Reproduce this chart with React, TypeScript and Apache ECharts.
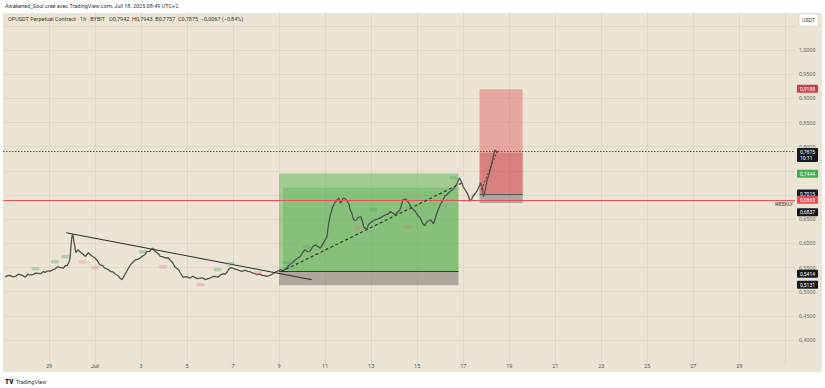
import React, { useEffect, useRef } from "react";
import * as echarts from "echarts";

// ---------- data ----------
const BASE_UTC = Date.UTC(2025, 5, 29, 0, 0); // 29 juin 2025 00:00
const HOUR_MS = 3600 * 1000;
const DAY_MS = 24 * HOUR_MS;

// hours relative to 29 June 00:00 and the close price read at that time
const hoursFromJun29 = [
  -46, -43, -41, -38, -35, -32, -30, -27, -25, -22, -20, -17, -14, -9, -6, -4, -1, 1, 4, 6,
  9, 11, 15, 17, 19, 21, 22, 23, 24, 25, 26, 28, 30, 32, 35, 38, 41, 43, 46, 48,
  51, 53, 56, 58, 62, 64, 67, 69, 72, 74, 76, 78, 79, 82, 85, 88, 90, 93, 95, 98,
  100, 102, 105, 108, 110, 111, 114, 116, 119, 121, 124, 126, 129, 131, 135, 137, 140, 143, 147, 150,
  152, 155, 158, 161, 163, 166, 168, 171, 173, 176, 178, 182, 184, 186, 187, 189, 191, 194, 196, 199,
  201, 205, 207, 210, 212, 215, 217, 220, 222, 225, 227, 231, 233, 236, 238, 241, 244, 246, 249, 251,
  255, 257, 260, 262, 265, 267, 270, 272, 275, 278, 281, 283, 286, 288, 290, 291, 293, 295, 296, 298,
  301, 302, 304, 306, 307, 309, 311, 313, 314, 316, 317, 319, 321, 322, 325, 327, 328, 330, 332, 333,
  335, 338, 340, 343, 345, 349, 351, 354, 356, 358, 361, 364, 366, 368, 369, 372, 374, 376, 377, 380,
  382, 385, 387, 390, 392, 394, 398, 401, 403, 405, 408, 411, 413, 415, 418, 421, 424, 426, 428, 429,
  431, 432, 434, 436, 438, 439, 441, 442, 445, 447, 449, 450, 452, 453, 454, 455, 457, 459, 460, 462,
  463, 465, 468,
];
const closePrices = [
  0.5304, 0.5331, 0.5337, 0.531, 0.5316, 0.5362, 0.5351, 0.5331, 0.5296, 0.5366, 0.5341, 0.5351, 0.5383, 0.5372, 0.5413, 0.5399, 0.5434, 0.542, 0.5455, 0.5469,
  0.5517, 0.5502, 0.549, 0.5537, 0.5544, 0.562, 0.5703, 0.5971, 0.6157, 0.6178, 0.6033, 0.5806, 0.5868, 0.5833, 0.5785, 0.573, 0.5806, 0.5765, 0.5723, 0.5697,
  0.562, 0.5558, 0.5537, 0.549, 0.5455, 0.542, 0.5403, 0.5366, 0.5331, 0.5283, 0.5248, 0.531, 0.5351, 0.5455, 0.5558, 0.562, 0.5661, 0.5672, 0.5697, 0.5744,
  0.5765, 0.5827, 0.5833, 0.5899, 0.5847, 0.5833, 0.5785, 0.573, 0.5723, 0.5697, 0.5703, 0.5661, 0.5599, 0.5523, 0.5455, 0.5387, 0.5296, 0.531, 0.5283, 0.5321,
  0.5296, 0.5269, 0.5283, 0.5279, 0.5248, 0.5269, 0.5283, 0.531, 0.5316, 0.53, 0.5337, 0.5372, 0.5366, 0.5413, 0.5455, 0.5496, 0.549, 0.5465, 0.5455, 0.5434,
  0.542, 0.5444, 0.542, 0.5413, 0.5387, 0.5372, 0.5351, 0.5362, 0.5337, 0.5331, 0.5316, 0.5341, 0.5366, 0.5403, 0.542, 0.5455, 0.5434, 0.5455, 0.5517, 0.5558,
  0.562, 0.5661, 0.5703, 0.573, 0.5827, 0.5868, 0.5827, 0.5833, 0.593, 0.5971, 0.592, 0.5903, 0.6006, 0.6075, 0.6143, 0.6323, 0.6556, 0.6694, 0.6763, 0.6839,
  0.6901, 0.6942, 0.6833, 0.6901, 0.6936, 0.6922, 0.6866, 0.6798, 0.6694, 0.6612, 0.6523, 0.6467, 0.6488, 0.6529, 0.6556, 0.6446, 0.6349, 0.6302, 0.6316, 0.6384,
  0.642, 0.6467, 0.6488, 0.6508, 0.6523, 0.657, 0.6591, 0.6612, 0.6659, 0.6632, 0.6591, 0.6653, 0.6694, 0.6818, 0.6901, 0.6922, 0.6866, 0.6818, 0.6763, 0.6694,
  0.6659, 0.657, 0.6529, 0.6405, 0.6364, 0.6446, 0.6488, 0.6405, 0.6529, 0.6653, 0.6798, 0.6901, 0.6984, 0.7004, 0.7066, 0.7108, 0.719, 0.7252, 0.7356, 0.7314,
  0.7232, 0.717, 0.7108, 0.7046, 0.6942, 0.6866, 0.6922, 0.6969, 0.7046, 0.7108, 0.719, 0.7252, 0.7149, 0.6969, 0.7004, 0.7108, 0.7314, 0.7438, 0.7521, 0.7665,
  0.7769, 0.793, 0.7875,
];

// position tools (hours from 29 June, prices)
const longZoneHours = [240, 427];
const longInnerStartHour = 244;
const longPrices = { stop: 0.5131, entry: 0.5414, target: 0.7444, innerTarget: 0.715 };
const shortZoneHours = [449, 494];
const shortPrices = { stop: 0.6837, entry: 0.7015, target: 0.9188 };
const lastPrice = 0.7875;
const weeklyLevel = 0.6863;
const countdown = "10:11";

// drawn trend lines [hour, price]
const downTrend = [[18, 0.6219], [274, 0.5248]];
const upTrendDashed = [[242, 0.5414], [432, 0.7263]];
const steepDashed = [[451, 0.7108], [468, 0.7934]];

// small swing markers [hour, price]
const swingHighs = [[-14, 0.5475], [6, 0.562], [17, 0.5723], [98, 0.5827], [176, 0.5455], [189, 0.5579], [248, 0.56], [269, 0.593], [338, 0.6694], [422, 0.7356]];
const swingLows = [[35, 0.562], [48, 0.5496], [119, 0.5517], [158, 0.5145], [218, 0.5393], [322, 0.6322], [374, 0.6343]];

// right-scale price tags
const priceTags = [0.9188, 0.7444, 0.7015, 0.6837, 0.5414, 0.5131];
const priceTagKinds = ["red", "green", "dark", "dark", "dark", "dark"];
// scale labels hidden under tags in the original
const coveredScaleLabels = [0.7, 0.75];

// ---------- helpers / styles ----------
const FONT = "Roboto, 'Liberation Sans', sans-serif";
const toTime = (h: number) => BASE_UTC + h * HOUR_MS;
const fmt = (v: number) => v.toFixed(4).replace(".", ",");
const tagColors: Record<string, string> = { red: "#c9404f", green: "#3fae55", dark: "#131722" };
const tagOffsets = [[0, 0], [0, -2], [0, -1.5], [0, 7.5], [0, 1.5], [0, -2]];
const HIDDEN_LINE = { color: "rgba(0,0,0,0)", width: 1, type: "solid" };

export default function App() {
  const ref = useRef<HTMLDivElement>(null);

  useEffect(() => {
    if (!ref.current) return;
    const chart = echarts.init(ref.current, undefined, { renderer: "svg" });

    const priceData = hoursFromJun29.map((h, i) => [toTime(h), closePrices[i]]);
    const toPts = (arr: number[][]) => arr.map(([h, p]) => [toTime(h), p]);

    const tagItems = priceTags.map((v, i) => ({
      yAxis: v,
      lineStyle: HIDDEN_LINE,
      label: {
        show: true,
        position: "end",
        distance: 2,
        offset: tagOffsets[i],
        formatter: fmt(v),
        color: "#fff",
        backgroundColor: tagColors[priceTagKinds[i]],
        padding: [1, 3],
        fontSize: 5,
        lineHeight: 6,
        fontFamily: FONT,
        borderRadius: 1,
      },
    }));

    const xMax = BASE_UTC + 32 * DAY_MS + 10 * HOUR_MS;

    const option: any = {
      animation: false,
      backgroundColor: "#ffffff",
      grid: { left: 3, right: 30, top: 1.66, bottom: 23.8, containLabel: false },
      xAxis: {
        type: "value",
        min: BASE_UTC - 2 * DAY_MS,
        max: xMax,
        interval: 2 * DAY_MS,
        axisLine: { show: false },
        axisTick: { show: false },
        splitLine: { show: true, showMinLine: false, showMaxLine: false, lineStyle: { color: "#e1d7c4", width: 1 } },
        axisLabel: {
          showMinLabel: false,
          showMaxLabel: false,
          margin: -1,
          fontSize: 5.5,
          color: "#555",
          fontFamily: FONT,
          formatter: (v: number) => {
            const d = new Date(v);
            if (d.getUTCHours() !== 0 || xMax - v < 1.5 * DAY_MS) return "";
            const day = d.getUTCDate();
            return day === 1 ? "Juil" : String(day);
          },
        },
      },
      yAxis: {
        type: "value",
        position: "right",
        min: 0.35,
        max: 1.1,
        interval: 0.05,
        axisLine: { show: false },
        axisTick: { show: false },
        splitLine: { show: true, showMinLine: false, showMaxLine: false, lineStyle: { color: "#e1d7c4", width: 1 } },
        axisLabel: {
          margin: 4,
          fontSize: 5.5,
          color: "#6e6e6e",
          fontFamily: FONT,
          formatter: (v: number) => {
            if (!(v > 0.39 && v < 1.01)) return "";
            if (coveredScaleLabels.some((c) => Math.abs(c - v) < 1e-6)) return "";
            return fmt(v);
          },
        },
      },
      series: [
        {
          name: "OPUSDT",
          type: "line",
          data: priceData,
          showSymbol: false,
          z: 4,
          lineStyle: { color: "#4f534e", width: 1.3 },
          markArea: {
            silent: true,
            data: [
              [
                { xAxis: toTime(longZoneHours[0]), yAxis: longPrices.entry, itemStyle: { color: "rgba(88,180,80,0.5)" } },
                { xAxis: toTime(longZoneHours[1]), yAxis: longPrices.target },
              ],
              [
                { xAxis: toTime(longInnerStartHour), yAxis: longPrices.entry, itemStyle: { color: "rgba(70,165,65,0.3)" } },
                { xAxis: toTime(longZoneHours[1]), yAxis: longPrices.innerTarget },
              ],
              [
                { xAxis: toTime(longZoneHours[0]), yAxis: longPrices.stop, itemStyle: { color: "rgba(110,108,104,0.5)" } },
                { xAxis: toTime(longZoneHours[1]), yAxis: longPrices.entry },
              ],
              [
                { xAxis: toTime(shortZoneHours[0]), yAxis: shortPrices.entry, itemStyle: { color: "rgba(220,70,80,0.38)" } },
                { xAxis: toTime(shortZoneHours[1]), yAxis: shortPrices.target },
              ],
              [
                { xAxis: toTime(shortZoneHours[0]), yAxis: shortPrices.entry, itemStyle: { color: "rgba(190,40,55,0.3)" } },
                { xAxis: toTime(shortZoneHours[1]), yAxis: lastPrice },
              ],
              [
                { xAxis: toTime(shortZoneHours[0]), yAxis: shortPrices.stop, itemStyle: { color: "rgba(110,108,104,0.5)" } },
                { xAxis: toTime(shortZoneHours[1]), yAxis: shortPrices.entry },
              ],
            ],
          },
          markLine: {
            silent: true,
            symbol: ["none", "none"],
            label: { show: false },
            data: [
              [
                { coord: [toTime(longZoneHours[0]), longPrices.entry], lineStyle: { color: "#3a3a3a", width: 1, type: "solid" } },
                { coord: [toTime(longZoneHours[1]), longPrices.entry] },
              ],
              [
                { coord: [toTime(shortZoneHours[0]), shortPrices.entry], lineStyle: { color: "#5a5a5a", width: 1, type: "solid" } },
                { coord: [toTime(shortZoneHours[1]), shortPrices.entry] },
              ],
              {
                yAxis: weeklyLevel,
                lineStyle: HIDDEN_LINE,
                label: {
                  show: true,
                  position: "insideEndBottom",
                  distance: 2,
                  formatter: "WEEKLY",
                  color: "#333",
                  fontSize: 5,
                  fontFamily: FONT,
                },
              },
              {
                yAxis: lastPrice,
                lineStyle: { color: "#555", width: 1, type: [1.5, 1.5] },
                label: {
                  show: true,
                  position: "end",
                  distance: 2,
                  offset: [0, 3.5],
                  formatter: fmt(lastPrice) + "\n" + countdown,
                  color: "#fff",
                  backgroundColor: "#131722",
                  padding: [1, 3],
                  fontSize: 5,
                  lineHeight: 6,
                  fontFamily: FONT,
                  borderRadius: 1,
                },
              },
              ...tagItems,
              {
                yAxis: weeklyLevel,
                lineStyle: { color: "#e9505c", width: 1, type: "solid" },
                label: {
                  show: true,
                  position: "end",
                  distance: 2,
                  formatter: fmt(weeklyLevel),
                  color: "#fff",
                  backgroundColor: "#f04a58",
                  padding: [1, 3],
                  fontSize: 5,
                  lineHeight: 6,
                  fontFamily: FONT,
                  borderRadius: 1,
                },
              },
            ],
          },
        },
        {
          name: "Tendance baissière",
          type: "line",
          data: toPts(downTrend),
          showSymbol: false,
          z: 5,
          lineStyle: { color: "#2b2b2b", width: 1 },
        },
        {
          name: "Tendance haussière",
          type: "line",
          data: toPts(upTrendDashed),
          showSymbol: false,
          z: 5,
          lineStyle: { color: "#2f3a2c", width: 1.2, type: [3, 2.5] },
        },
        {
          name: "Impulsion",
          type: "line",
          data: toPts(steepDashed),
          showSymbol: false,
          z: 5,
          lineStyle: { color: "#7a2a30", width: 1, type: [2, 2] },
        },
        {
          name: "Sommets",
          type: "scatter",
          data: toPts(swingHighs),
          symbol: "roundRect",
          symbolSize: [8, 3.5],
          z: 6,
          itemStyle: { color: "rgba(80,170,100,0.45)" },
        },
        {
          name: "Creux",
          type: "scatter",
          data: toPts(swingLows),
          symbol: "roundRect",
          symbolSize: [8, 3.5],
          z: 6,
          itemStyle: { color: "rgba(232,110,120,0.35)" },
        },
      ],
      graphic: [
        { type: "rect", z: -10, silent: true, shape: { x: 3, y: 13, width: 819, height: 359 }, style: { fill: "#ece4d4" } },
        { type: "rect", z: 100, silent: true, shape: { x: 0, y: 0, width: 825, height: 12.5 }, style: { fill: "#ffffff" } },
        {
          type: "text", z: 101, silent: true, x: 5, y: 3,
          style: { text: "Awakened_Soul créé avec TradingView.com, Juil 18, 2025 08:49 UTC+2", fontSize: 5.5, fill: "#333", fontFamily: FONT },
        },
        {
          type: "text", z: 101, silent: true, x: 8, y: 15.5,
          style: {
            text: "OPUSDT Perpetual Contract · 1h · BYBIT   O0,7942  H0,7943  B0,7757  C0,7875  −0,0067 (−0,84%)",
            fontSize: 5.5, fill: "#3a3a3a", fontFamily: FONT,
          },
        },
        { type: "rect", z: 101, silent: true, shape: { x: 799, y: 14, width: 19, height: 12, r: 2 }, style: { fill: "#ffffff", stroke: "#d8d2c6", lineWidth: 0.6 } },
        {
          type: "text", z: 102, silent: true, x: 808.5, y: 20,
          style: { text: "USDT", fontSize: 5, fill: "#333", fontFamily: FONT, align: "center", verticalAlign: "middle" },
        },
        {
          type: "text", z: 101, silent: true, x: 5, y: 378,
          style: { text: "TV", fontSize: 6.5, fontWeight: 900, fill: "#131722", fontFamily: FONT },
        },
        {
          type: "text", z: 101, silent: true, x: 16, y: 378.5,
          style: { text: "TradingView", fontSize: 5.5, fill: "#333", fontFamily: FONT },
        },
      ],
    };

    chart.setOption(option);
    return () => chart.dispose();
  }, []);

  return <div ref={ref} style={{ position: "absolute", left: 0, top: 0, width: 825, height: 388 }} />;
}
